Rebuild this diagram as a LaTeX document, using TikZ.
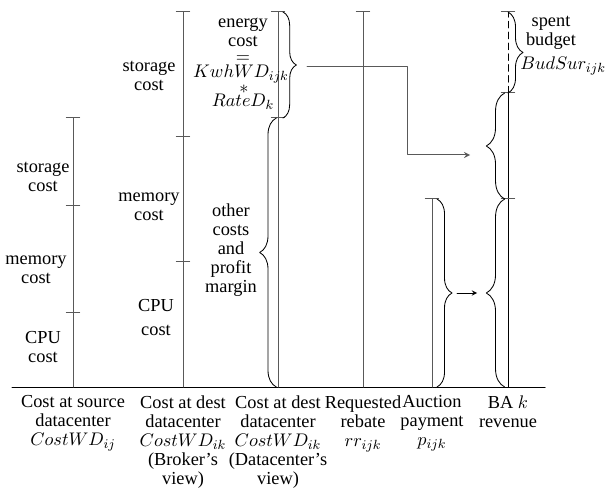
\documentclass[tikz,border=0pt]{standalone}
\usepackage{fontspec}
\setmainfont{Liberation Serif}
\usetikzlibrary{decorations.pathreplacing}

\begin{document}
\begin{tikzpicture}[x=0.6pt,y=0.6pt,line cap=round,line join=round,>=stealth,
  bar/.style={black!65,line width=0.6pt},
  brc/.style={decorate,decoration={brace,amplitude=#1},line width=0.5pt},
  brc/.default=9pt,
  lbl/.style={align=center,inner sep=0pt,font=\fontsize{11}{11.4}\selectfont}]

\useasboundingbox (0,-104) rectangle (607,387);

\def\xa{73}
\def\xb{183}
\def\xc{278}
\def\xd{363}
\def\xe{432}
\def\xf{508}

% 各列端点
\coordinate (A0) at (\xa,0);  \coordinate (A1) at (\xa,74);  \coordinate (A2) at (\xa,181); \coordinate (A3) at (\xa,269);
\coordinate (B0) at (\xb,0);  \coordinate (B1) at (\xb,125); \coordinate (B2) at (\xb,250); \coordinate (B3) at (\xb,375);
\coordinate (C0) at (\xc,0);  \coordinate (C1) at (\xc,269); \coordinate (C2) at (\xc,375);
\coordinate (D0) at (\xd,0);  \coordinate (D1) at (\xd,375);
\coordinate (E0) at (\xe,0);  \coordinate (E1) at (\xe,188);
\coordinate (F0) at (\xf,0);  \coordinate (F1) at (\xf,188); \coordinate (F2) at (\xf,294); \coordinate (F3) at (\xf,375);
\coordinate (L) at (12,0);
\coordinate (R) at (545,0);

% 横轴
\draw[line width=0.6pt] (L) -- (R);

% 竖线
\draw[bar] (A0) -- (A3);
\draw[bar] (B0) -- (B3);
\draw[bar] (C0) -- (C2);
\draw[bar] (D0) -- (D1);
\draw[bar] (E0) -- (E1);
\draw[line width=0.5pt] (F0) -- (F2);
\draw[line width=0.5pt,dash pattern=on 4pt off 2.5pt] (F2) -- (F3);

% 刻度
\foreach \p in {A1,A2,A3,B1,B2,B3,C1,C2,D1,E1,F1,F2,F3}
  \draw[bar] ([xshift=-4pt]\p) -- ([xshift=4pt]\p);

% 括号
\draw[brc=8pt] ([xshift=3pt]C2) -- ([xshift=3pt]C1);
\draw[brc=10pt] ([xshift=-1pt]C0) -- ([xshift=-1pt]C1);
\draw[brc] ([xshift=3pt]E1) -- ([xshift=3pt]E0);
\draw[brc] (F3) -- (F2);
\draw[brc=11pt] ([xshift=-2pt]F1) -- ([xshift=-2pt]F2);
\draw[brc=11pt] ([xshift=-2pt]F0) -- ([xshift=-2pt]F1);

% 箭头
\coordinate (P1) at (307,320);
\coordinate (P2) at (407,232);
\coordinate (P3) at (470,232);
\coordinate (Q1) at (457,94);
\coordinate (Q2) at (477,94);
\draw[bar,->] (P1) -| (P2) -- (P3);
\draw[->] (Q1) -- (Q2);

% 列内标注
\node[lbl] (sA) at (43,210) {storage\\cost};
\node[lbl] (mA) at (36,117) {memory\\cost};
\node[lbl] (pA) at (43,40) {CPU\\cost};
\node[lbl] (sB) at (149,311) {storage\\cost};
\node[lbl] (mB) at (149,180) {memory\\cost};
\node[lbl] (pB) at (156,69) {CPU\\[3pt]cost};
\node[lbl] (oC) at (231,137) {other\\costs\\and\\profit\\margin};
\node[lbl] (eC) at (243,355) {energy\\cost};
\node[lbl] (qC) at (243,328) {$=$};
\node[lbl] (kC) at (241,313) {$KwhWD_{ijk}$};
\node[lbl] (xC) at (244,298) {$*$};
\node[lbl] (rC) at (243,285) {$RateD_k$};
\node[lbl] (sF) at (551,354) {spent\\budget};
\node[lbl,anchor=west] (uF) at (520,321) {$BudSur_{ijk}$};

% 底部标注
\node[lbl,anchor=north] (tA) at (\xa,-8) {Cost at source\\datacenter\\$CostWD_{ij}$};
\node[lbl,anchor=north] (tB) at (\xb,-8) {Cost at dest\\datacenter\\$CostWD_{ik}$\\(Broker's\\view)};
\node[lbl,anchor=north] (tC) at (\xc,-8) {Cost at dest\\datacenter\\$CostWD_{ik}$\\(Datacenter's\\view)};
\node[lbl,anchor=north] (tD) at (\xd,-8) {Requested\\rebate\\$rr_{ijk}$};
\node[lbl,anchor=north] (tE) at (\xe,-8) {Auction\\payment\\$p_{ijk}$};
\node[lbl,anchor=north] (tF) at (\xf,-8) {BA $k$\\revenue};

\end{tikzpicture}
\end{document}
